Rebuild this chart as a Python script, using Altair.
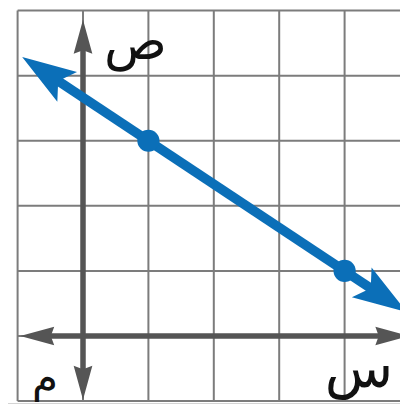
import math
import altair as alt
import pandas as pd

# data
grid_vals = [-1, 0, 1, 2, 3, 4, 5]
pts_x = [1, 4]
pts_y = [3, 1]
line_ends_x = [-0.93, 4.95]
yaxis_tips = [4.86, -0.98]
xaxis_tips = [-0.96, 4.99]
labels = ["ص", "س", "م"]
label_x = [0.8, 4.22, -0.58]
label_y = [4.5, -0.52, -0.66]
label_size = [52, 56, 42]

# pixel mapping: y-axis at page x=83, x-axis at page y=336, 65.4 / 65.08 px per unit
W, H = 392, 396
PX0, PY0 = 83.0, 336.0
KX, KY = 65.4, 65.08
XD = [(8 - PX0) / KX, (8 + W - PX0) / KX]
YD = [(PY0 - 8 - H) / KY, (PY0 - 8) / KY]
kx = W / (XD[1] - XD[0])
ky = H / (YD[1] - YD[0])

xs = alt.Scale(domain=XD, nice=False, zero=False)
ys = alt.Scale(domain=YD, nice=False, zero=False)

slope = (pts_y[1] - pts_y[0]) / (pts_x[1] - pts_x[0])
def fy(x):
    return pts_y[0] + slope * (x - pts_x[0])

ang = math.degrees(math.atan2(-slope * ky, kx))
ux, uy = math.cos(math.radians(ang)), math.sin(math.radians(ang))

BLUE = "#0b6fb8"
GRID = "#7c7c7c"
AX = "#555555"

shadow = alt.Chart(pd.DataFrame({"x": [XD[0]], "x2": [XD[1]], "y": [-1.03], "y2": [YD[0]]})).mark_rect(
    color="#d4d4d4"
).encode(x=alt.X("x:Q", scale=xs, axis=None), x2="x2", y=alt.Y("y:Q", scale=ys, axis=None), y2="y2")

vgrid = alt.Chart(pd.DataFrame({"x": grid_vals, "y": -1, "y2": 5})).mark_rule(color=GRID, strokeWidth=2).encode(
    x=alt.X("x:Q", scale=xs, axis=None), y=alt.Y("y:Q", scale=ys, axis=None), y2="y2")
hgrid = alt.Chart(pd.DataFrame({"y": grid_vals, "x": -1, "x2": 5})).mark_rule(color=GRID, strokeWidth=2).encode(
    y=alt.Y("y:Q", scale=ys, axis=None), x=alt.X("x:Q", scale=xs, axis=None), x2="x2")

AL = 34
yaxis = alt.Chart(pd.DataFrame({"x": [0], "y": [yaxis_tips[1] + AL * 0.8 / ky], "y2": [yaxis_tips[0] - AL * 0.8 / ky]})).mark_rule(
    color=AX, strokeWidth=5.5).encode(x=alt.X("x:Q", scale=xs, axis=None), y=alt.Y("y:Q", scale=ys, axis=None), y2="y2")
xaxis = alt.Chart(pd.DataFrame({"y": [0], "x": [xaxis_tips[0] + AL * 0.8 / kx], "x2": [xaxis_tips[1] - AL * 0.8 / kx]})).mark_rule(
    color=AX, strokeWidth=5.5).encode(y=alt.Y("y:Q", scale=ys, axis=None), x=alt.X("x:Q", scale=xs, axis=None), x2="x2")

ax_arrow_path = "M1,0L-1,-0.55L-0.8,0L-1,0.55Z"
ax_arrows_df = pd.DataFrame({
    "x": [0, 0, xaxis_tips[0] + AL / 2 / kx, xaxis_tips[1] - AL / 2 / kx],
    "y": [yaxis_tips[0] - AL / 2 / ky, yaxis_tips[1] + AL / 2 / ky, 0, 0],
    "a": [270, 90, 180, 0],
})
ax_arrows = alt.Chart(ax_arrows_df).mark_point(shape=ax_arrow_path, filled=True, size=AL * AL, color=AX, opacity=1).encode(
    x=alt.X("x:Q", scale=xs, axis=None), y=alt.Y("y:Q", scale=ys, axis=None), angle=alt.Angle("a:Q", scale=None))

BL = 54
lx0 = line_ends_x[0] + BL * 0.7 * ux / kx
lx1 = line_ends_x[1] - BL * 0.7 * ux / kx
bline = alt.Chart(pd.DataFrame({"x": [lx0, lx1], "y": [fy(lx0), fy(lx1)]})).mark_line(
    color=BLUE, strokeWidth=9.5).encode(x=alt.X("x:Q", scale=xs, axis=None), y=alt.Y("y:Q", scale=ys, axis=None))

bl_arrow_path = "M1,0L-1,-0.66L-0.6,0L-1,0.66Z"
cx0 = line_ends_x[0] + BL / 2 * ux / kx
cx1 = line_ends_x[1] - BL / 2 * ux / kx
barrows = alt.Chart(pd.DataFrame({"x": [cx0, cx1], "y": [fy(cx0), fy(cx1)], "a": [ang + 180, ang]})).mark_point(
    shape=bl_arrow_path, filled=True, size=BL * BL, color=BLUE, opacity=1).encode(
    x=alt.X("x:Q", scale=xs, axis=None), y=alt.Y("y:Q", scale=ys, axis=None), angle=alt.Angle("a:Q", scale=None))

dots = alt.Chart(pd.DataFrame({"x": pts_x, "y": pts_y})).mark_point(
    shape="circle", filled=True, size=490, color=BLUE, opacity=1).encode(
    x=alt.X("x:Q", scale=xs, axis=None), y=alt.Y("y:Q", scale=ys, axis=None))

texts = alt.Chart(pd.DataFrame({"t": labels, "x": label_x, "y": label_y, "s": label_size})).mark_text(
    font="DejaVu Sans", color="#111111", baseline="middle", align="center").encode(
    x=alt.X("x:Q", scale=xs, axis=None), y=alt.Y("y:Q", scale=ys, axis=None), text="t:N",
    size=alt.Size("s:Q", scale=None))

chart = alt.layer(shadow, vgrid, hgrid, yaxis, xaxis, ax_arrows, bline, barrows, dots, texts).properties(
    width=W, height=H, padding=0, autosize="none", background="white"
).configure_view(stroke=None)

chart.save("out.html", embed_options={"renderer": "svg", "actions": False})
